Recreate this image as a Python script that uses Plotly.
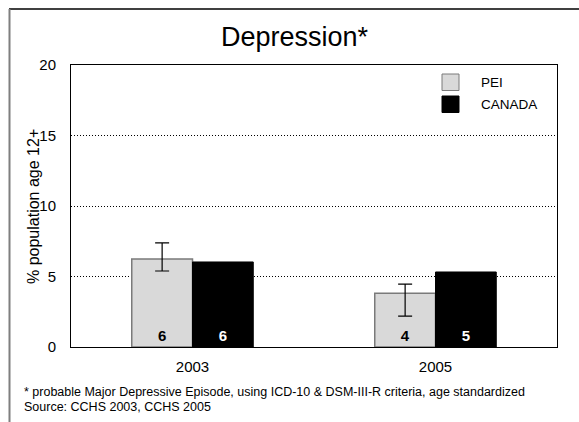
import plotly.graph_objects as go

# Survey years and prevalence estimates (% of population age 12+)
years = ["2003", "2005"]
pei = [6.24, 3.82]
pei_ci_low = [5.39, 2.19]
pei_ci_high = [7.38, 4.46]
canada = [6.03, 5.32]

series_names = ["PEI", "CANADA"]
footnote_1 = "* probable Major Depressive Episode, using ICD-10 & DSM-III-R criteria, age standardized"
footnote_2 = "Source: CCHS 2003, CCHS 2005"

FONT = "Liberation Sans, Arial, sans-serif"
PEI_FILL = "#d9d9d9"
PEI_EDGE = "#7a7a7a"

err_plus = [h - v for h, v in zip(pei_ci_high, pei)]
err_minus = [v - l for v, l in zip(pei, pei_ci_low)]

fig = go.Figure()
fig.add_trace(go.Bar(
    name=series_names[0], x=years, y=pei,
    marker=dict(color=PEI_FILL, line=dict(color=PEI_EDGE, width=1.5)),
    error_y=dict(type="data", symmetric=False, array=err_plus, arrayminus=err_minus,
                 color="black", thickness=1.2, width=7),
    texttemplate="%{y:.0f}", textposition="inside", insidetextanchor="start",
    textangle=0, textfont=dict(family=FONT, size=15, color="black", weight="bold"),
    showlegend=False,
))
fig.add_trace(go.Bar(
    name=series_names[1], x=years, y=canada,
    marker=dict(color="black", line=dict(color="black", width=1)),
    texttemplate="%{y:.0f}", textposition="inside", insidetextanchor="start",
    textangle=0, textfont=dict(family=FONT, size=15, color="white", weight="bold"),
    showlegend=False,
))

# Plot area geometry in pixels (used to place paper-referenced decorations)
W, H = 579, 422
L, R, T, B = 71, 22, 65, 75
pw, ph = W - L - R, H - T - B


def px_x(x):
    return (x - L) / pw


def px_y(y):
    return (H - B - y) / ph


shapes = [
    # page frame: top and left edges
    dict(type="line", xref="paper", yref="paper", x0=px_x(9), x1=px_x(600),
         y0=px_y(9), y1=px_y(9), line=dict(color="black", width=1.5)),
    dict(type="line", xref="paper", yref="paper", x0=px_x(9.5), x1=px_x(9.5),
         y0=px_y(9), y1=px_y(440), line=dict(color="#7f7f7f", width=2)),
    # legend swatches
    dict(type="rect", xref="paper", yref="paper", x0=px_x(442), x1=px_x(459),
         y0=px_y(74), y1=px_y(90.5), fillcolor=PEI_FILL, line=dict(color=PEI_EDGE, width=1)),
    dict(type="rect", xref="paper", yref="paper", x0=px_x(442), x1=px_x(459),
         y0=px_y(96), y1=px_y(112.5), fillcolor="black", line=dict(color="black", width=1)),
]

annotations = [
    dict(text=series_names[0], xref="paper", yref="paper", x=px_x(479), y=px_y(82),
         xanchor="left", yanchor="middle", showarrow=False,
         font=dict(family=FONT, size=13.5, color="black")),
    dict(text=series_names[1], xref="paper", yref="paper", x=px_x(479), y=px_y(104),
         xanchor="left", yanchor="middle", showarrow=False,
         font=dict(family=FONT, size=13.5, color="black")),
    dict(text=footnote_1, xref="paper", yref="paper", x=px_x(22), y=px_y(392),
         xanchor="left", yanchor="middle", showarrow=False,
         font=dict(family=FONT, size=12.5, color="black")),
    dict(text=footnote_2, xref="paper", yref="paper", x=px_x(22), y=px_y(407),
         xanchor="left", yanchor="middle", showarrow=False,
         font=dict(family=FONT, size=12.5, color="black")),
    dict(text="Depression*", xref="paper", yref="paper", x=px_x(295), y=px_y(37),
         xanchor="center", yanchor="middle", showarrow=False,
         font=dict(family=FONT, size=27, color="black")),
    # y-axis title
    dict(text="% population age 12+", xref="paper", yref="paper", x=px_x(33), y=px_y(207),
         xanchor="center", yanchor="middle", textangle=-90, showarrow=False,
         font=dict(family=FONT, size=16, color="black")),
]

fig.update_layout(
    width=W, height=H,
    margin=dict(l=L, r=R, t=T, b=B, autoexpand=False),
    paper_bgcolor="white", plot_bgcolor="white",
    barmode="group", bargap=0.5, bargroupgap=0,
    font=dict(family=FONT, color="black"),
    shapes=shapes, annotations=annotations,
    xaxis=dict(
        type="category", range=[-0.5, 1.5], showgrid=False,
        showline=True, linecolor="black", linewidth=1, mirror=True,
        ticks="outside", ticklen=6, tickcolor="rgba(0,0,0,0)",
        tickfont=dict(family=FONT, size=15, color="black"),
    ),
    yaxis=dict(
        range=[0, 20], dtick=5, tick0=0,
        showgrid=True, gridcolor="black", gridwidth=1, griddash="1px,2px",
        zeroline=False,
        showline=True, linecolor="black", linewidth=1, mirror=True,
        ticks="outside", ticklen=11, tickcolor="rgba(0,0,0,0)",
        tickfont=dict(family=FONT, size=15, color="black"),
    ),
)

fig.write_html("out.html")
